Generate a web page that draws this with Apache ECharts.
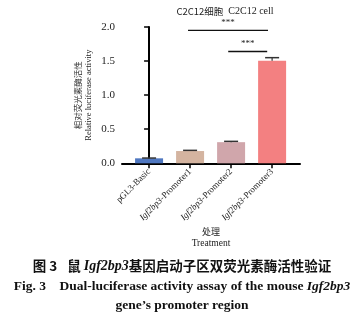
<!DOCTYPE html>
<html>
<head>
<meta charset="utf-8">
<script src="https://cdn.jsdelivr.net/npm/echarts@6/dist/echarts.min.js"></script>
<style>html,body{margin:0;padding:0;background:#fff;}#c{width:364px;height:324px;}</style>
</head>
<body>
<div id="c"></div>
<script>
const categories = ['pGL3-Basic', 'Igf2bp3-Promoter1', 'Igf2bp3-Promoter2', 'Igf2bp3-Promoter3'];
const values = [0.073, 0.18, 0.31, 1.505];
const errors = [0.004, 0.01, 0.012, 0.045];
const barColors = ['#4f77c0', '#d4b4a0', '#d0a6ab', '#f38081'];
const sigFrom = [0.95, 1.93];
const sigTo = [2.9, 2.88];
const sigY = [1.95, 1.64];
const sigText = ['***', '***'];

const SERIF = '"Liberation Serif", "Times New Roman", serif';
const CJK = '"Noto Sans CJK SC", sans-serif';

const chart = echarts.init(document.getElementById('c'), null, {renderer: 'canvas'});

const catIdx = categories.map((_, i) => i);

chart.setOption({
  backgroundColor: '#fff',
  animation: false,
  title: {
    text: '{c|C2C12细胞} {e|C2C12 cell}',
    left: 225, top: 2, textAlign: 'center', padding: 0,
    textStyle: {
      fontWeight: 'normal',
      rich: {
        c: {fontFamily: CJK, fontSize: 9.5, color: '#222', fontWeight: 'normal'},
        e: {fontFamily: SERIF, fontSize: 10, color: '#222', fontWeight: 'normal'}
      }
    }
  },
  grid: {left: 122, top: 27, width: 178, height: 136.3},
  xAxis: {
    type: 'value', min: -0.66, max: 3.68,
    splitLine: {show: false},
    axisLine: {show: true, lineStyle: {color: '#000', width: 2}},
    axisTick: {show: true, customValues: catIdx, length: 5, lineStyle: {color: '#000', width: 1.5}},
    axisLabel: {
      customValues: catIdx, rotate: 45, margin: 7,
      formatter: function (v) {
        const s = categories[Math.round(v)];
        if (s.indexOf('Igf2bp3') === 0) return '{i|Igf2bp3}{n|' + s.slice(7) + '}';
        return '{n|' + s + '}';
      },
      rich: {
        i: {fontFamily: SERIF, fontStyle: 'italic', fontSize: 9, color: '#222'},
        n: {fontFamily: SERIF, fontSize: 9, color: '#222'}
      }
    },
    name: '{c|处理}\n{e|Treatment}',
    nameLocation: 'middle', nameGap: 62,
    nameTextStyle: {
      rich: {
        c: {fontFamily: CJK, fontSize: 9, color: '#222', lineHeight: 12},
        e: {fontFamily: SERIF, fontSize: 9.5, color: '#222', lineHeight: 12}
      }
    }
  },
  yAxis: {
    type: 'value', min: 0, max: 2, interval: 0.5,
    splitLine: {show: false},
    axisLine: {show: true, lineStyle: {color: '#000', width: 2}},
    axisTick: {show: true, length: 5, lineStyle: {color: '#000', width: 1.5}},
    axisLabel: {
      margin: 7, fontFamily: SERIF, fontSize: 11, color: '#222',
      formatter: v => v.toFixed(1)
    },
    name: '{c|相对荧光素酶活性}\n{e|Relative luciferase activity}',
    nameLocation: 'middle', nameGap: 28, nameRotate: 90,
    nameTextStyle: {
      rich: {
        c: {fontFamily: CJK, fontSize: 8.5, color: '#333', lineHeight: 11},
        e: {fontFamily: SERIF, fontSize: 8.5, color: '#222', lineHeight: 11}
      }
    }
  },
  series: [
    {
      type: 'bar', barWidth: 28,
      data: values.map((v, i) => ({value: [i, v], itemStyle: {color: barColors[i]}})),
      z: 2
    },
    {
      type: 'custom', z: 3,
      data: values.map((v, i) => [i, v, errors[i]]),
      renderItem: function (params, api) {
        const x = api.value(0), v = api.value(1), e = api.value(2);
        const p0 = api.coord([x, v]);
        const p1 = api.coord([x, v + e]);
        return {
          type: 'group',
          children: [
            {type: 'line', shape: {x1: p0[0], y1: p0[1], x2: p1[0], y2: p1[1]}, style: {stroke: '#333', lineWidth: 1.2}},
            {type: 'line', shape: {x1: p1[0] - 7, y1: p1[1], x2: p1[0] + 7, y2: p1[1]}, style: {stroke: '#333', lineWidth: 1.5}}
          ]
        };
      }
    },
    {
      type: 'custom', z: 3,
      data: sigY.map((y, i) => [sigFrom[i], sigTo[i], y]),
      renderItem: function (params, api) {
        const a = api.coord([api.value(0), api.value(2)]);
        const b = api.coord([api.value(1), api.value(2)]);
        return {
          type: 'group',
          children: [
            {type: 'line', shape: {x1: a[0], y1: a[1], x2: b[0], y2: b[1]}, style: {stroke: '#111', lineWidth: 1.4}},
            {type: 'text', style: {text: sigText[params.dataIndex], x: (a[0] + b[0]) / 2, y: a[1] - 3,
              align: 'center', verticalAlign: 'bottom', fontFamily: SERIF, fontSize: 9, fill: '#222'}}
          ]
        };
      }
    }
  ],
  graphic: [
    {
      type: 'text', left: 'center', top: 259,
      style: {
        text: '{b|图 3}   {c|鼠 }{i|Igf2bp3}{c|基因启动子区双荧光素酶活性验证}',
        rich: {
          b: {fontFamily: CJK, fontWeight: 'bold', fontSize: 13.5, fill: '#111'},
          c: {fontFamily: CJK, fontWeight: 'bold', fontSize: 13.5, fill: '#111'},
          i: {fontFamily: SERIF, fontWeight: 'bold', fontStyle: 'italic', fontSize: 14, fill: '#111'}
        }
      }
    },
    {
      type: 'text', left: 'center', top: 280,
      style: {
        text: '{b|Fig. 3    Dual-luciferase activity assay of the mouse }{i|Igf2bp3}',
        rich: {
          b: {fontFamily: SERIF, fontWeight: 'bold', fontSize: 13.5, fill: '#111'},
          i: {fontFamily: SERIF, fontWeight: 'bold', fontStyle: 'italic', fontSize: 13.5, fill: '#111'}
        }
      }
    },
    {
      type: 'text', left: 'center', top: 299,
      style: {
        text: 'gene\u2019s promoter region',
        fontFamily: SERIF, fontWeight: 'bold', fontSize: 13.5, fill: '#111'
      }
    }
  ]
});
</script>
</body>
</html>
